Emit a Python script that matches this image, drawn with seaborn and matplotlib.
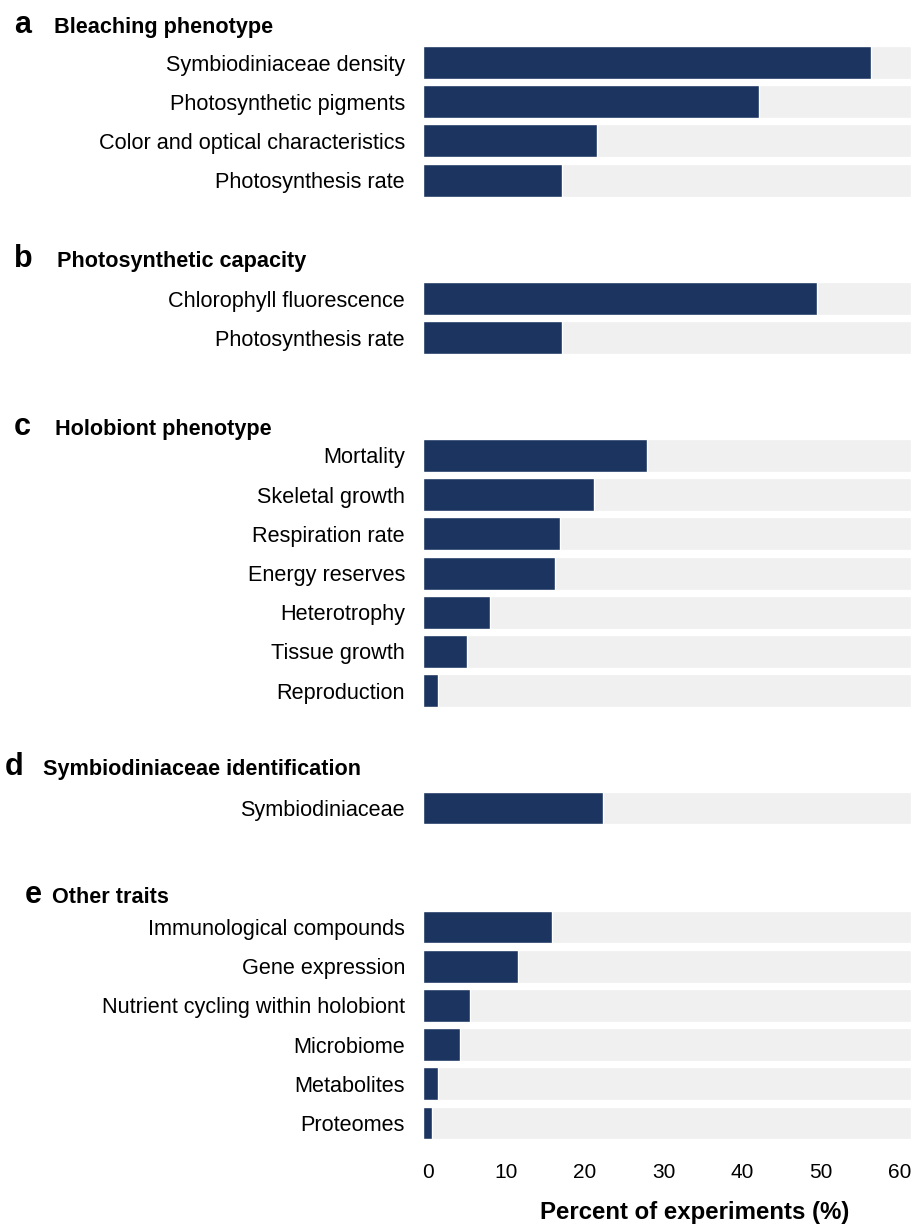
import matplotlib
matplotlib.use("Agg")
import matplotlib.pyplot as plt
import matplotlib.transforms as mtransforms
import seaborn as sns
import pandas as pd

# Percent of experiments measuring each trait, grouped by trait category
bleaching_traits = ["Symbiodiniaceae density", "Photosynthetic pigments",
                    "Color and optical characteristics", "Photosynthesis rate"]
bleaching_pct = [56.9, 42.7, 22.1, 17.7]

photo_traits = ["Chlorophyll fluorescence", "Photosynthesis rate"]
photo_pct = [50.1, 17.7]

holobiont_traits = ["Mortality", "Skeletal growth", "Respiration rate", "Energy reserves",
                    "Heterotrophy", "Tissue growth", "Reproduction"]
holobiont_pct = [28.5, 21.7, 17.4, 16.8, 8.5, 5.6, 1.9]

symb_traits = ["Symbiodiniaceae"]
symb_pct = [22.9]

other_traits = ["Immunological compounds", "Gene expression",
                "Nutrient cycling within holobiont", "Microbiome", "Metabolites", "Proteomes"]
other_pct = [16.4, 12.1, 6.0, 4.7, 1.9, 1.1]

panel_letters = ["a", "b", "c", "d", "e"]
panel_titles = ["Bleaching phenotype", "Photosynthetic capacity", "Holobiont phenotype",
                "Symbiodiniaceae identification", "Other traits"]

x_ticks = [0, 10, 20, 30, 40, 50, 60]
x_max = 62
x_label = "Percent of experiments (%)"

NAVY = "#1c3560"
TRACK = "#f0f0f0"

sns.set_theme(style="white")
plt.rcParams["font.family"] = ["Liberation Sans", "DejaVu Sans"]
plt.rcParams["text.color"] = "black"
plt.rcParams["axes.labelcolor"] = "black"

W, H = 922, 1224
fig = plt.figure(figsize=(W / 100, H / 100), dpi=100)

panels = [
    (bleaching_traits, bleaching_pct),
    (photo_traits, photo_pct),
    (holobiont_traits, holobiont_pct),
    (symb_traits, symb_pct),
    (other_traits, other_pct),
]

# layout in pixels
ax_left, ax_right = 423, 911
row_pitch = 39.2
panel_tops = [42.9, 278.9, 435.9, 788.4, 907.4]
letter_x = [14, 14, 14, 5, 25]
title_x = [54, 57, 55, 43, 52]
baselines = [33, 267, 435, 775, 903]

axes = []
for i, (traits, pct) in enumerate(panels):
    n = len(traits)
    top = panel_tops[i]
    height = n * row_pitch
    ax = fig.add_axes([ax_left / W, 1 - (top + height) / H,
                       (ax_right - ax_left) / W, height / H])
    df = pd.DataFrame({"trait": traits, "pct": pct, "track": [x_max] * n})
    sns.barplot(data=df, x="track", y="trait", color=TRACK, width=0.84,
                saturation=1, ax=ax, orient="h")
    sns.barplot(data=df, x="pct", y="trait", color=NAVY, width=0.84,
                saturation=1, ax=ax, orient="h")
    ax.set_xlim(0, x_max)
    ax.set_ylabel("")
    ax.set_xlabel("")
    ax.set_xticks(x_ticks)
    for s in ax.spines.values():
        s.set_visible(False)
    ax.tick_params(axis="y", length=0, pad=13, labelsize=15.6, labelcolor="black")
    ax.tick_params(axis="x", length=0, pad=15, labelsize=15, labelcolor="black")
    if i < len(panels) - 1:
        ax.set_xticklabels([])
    axes.append(ax)

    fig.text(letter_x[i] / W, 1 - baselines[i] / H, panel_letters[i],
             fontsize=22, fontweight="bold", va="baseline", ha="left")
    fig.text(title_x[i] / W, 1 - baselines[i] / H, panel_titles[i],
             fontsize=15.6, fontweight="bold", va="baseline", ha="left")

bottom_ax = axes[-1]
# tick numbers sit slightly right of the bar origin
shift = mtransforms.ScaledTranslation(4.5 / 100, 0, fig.dpi_scale_trans)
for lbl in bottom_ax.get_xticklabels():
    lbl.set_transform(lbl.get_transform() + shift)

bottom_ax.set_xlabel(x_label, fontsize=17.3, fontweight="bold", color="black")
bottom_h = len(other_traits) * row_pitch
bottom_ax.xaxis.set_label_coords((694.5 - ax_left) / (ax_right - ax_left),
                                 -(1213 - (panel_tops[-1] + bottom_h)) / bottom_h)
bottom_ax.xaxis.label.set_va("center")

fig.savefig("out.png", dpi=100)
